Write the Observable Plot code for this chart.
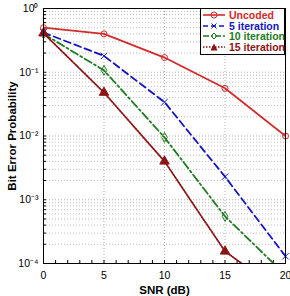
<!DOCTYPE html>
<html><head><meta charset="utf-8">
<script src="https://cdn.jsdelivr.net/npm/d3@7"></script>
<script src="https://cdn.jsdelivr.net/npm/@observablehq/plot@0.6"></script>
<style>
body{margin:0;background:#fff;font-family:"Liberation Sans",Arial,sans-serif;}
#wrap{position:relative;width:290px;height:296px;}
#legend{position:absolute;left:200px;top:8px;width:85px;height:47px;border:1px solid #000;background:#fff;box-sizing:border-box;font-weight:bold;font-size:10.5px;padding-top:1px;}
#legend div{display:flex;align-items:center;height:10.5px;white-space:nowrap;}
#legend svg{flex:none;margin-right:2px;}
</style></head>
<body><div id="wrap"></div>
<script>
const snr = [0, 5, 10, 15, 20];
const uncoded = [0.5, 0.4, 0.17, 0.056, 0.01];
const iter5 = [0.42, 0.18, 0.034, 0.0023, 0.00013];
const iter10 = [0.4, 0.107, 0.0095, 0.00055, 0.000066];
const iter15 = [0.41, 0.048, 0.004, 0.000155, 0.000032];
const seriesNames = ["Uncoded", "5 iteration", "10 iteration", "15 iteration"];
const colors = ["#d42a2a", "#1414c0", "#1e7b1e", "#8b1414"];
const dashes = ["none", "7,4", "8,3,2,3", "1.5,1.5"];
const symbols = ["circle", "times", "diamond", "triangle"];
const fills = ["none", "none", "none", "#8b1414"];
const xTicks = [0, 5, 10, 15, 20];
const yMajor = [1, 0.1, 0.01, 0.001, 0.0001];

const allSeries = [uncoded, iter5, iter10, iter15];
const rows = [];
allSeries.forEach((vals, i) => vals.forEach((v, j) => rows.push({name: seriesNames[i], snr: snr[j], ber: v, i})));
const yMinor = [];
for (let e = -4; e < 0; e++) for (let m = 2; m <= 9; m++) yMinor.push(m * Math.pow(10, e));
const sup = {"-":"⁻","0":"⁰","1":"¹","2":"²","3":"³","4":"⁴"};
const fmt = d => "10" + String(Math.round(Math.log10(d))).split("").map(c => sup[c]).join("");

const marks = [
  Plot.ruleY(yMinor, {stroke: "#b0b0b0", strokeWidth: 0.8, strokeDasharray: "1,2"}),
  Plot.ruleY(yMajor, {stroke: "#999", strokeWidth: 0.8, strokeDasharray: "1,2"}),
  Plot.ruleX(xTicks, {stroke: "#999", strokeWidth: 0.8, strokeDasharray: "1,2"}),
  Plot.axisX({ticks: d3.range(0, 21), tickSize: -3, tickFormat: () => "", label: null}),
  Plot.axisY({ticks: yMinor.concat(yMajor), tickSize: -3, tickFormat: () => "", label: null}),
  Plot.axisX({ticks: xTicks, tickSize: 0, tickPadding: 8, fontSize: 10.5, tickFormat: d => String(d),
    label: "SNR (dB)", labelAnchor: "center", labelArrow: "none", labelOffset: 30}),
  Plot.axisY({ticks: yMajor, tickSize: 0, tickPadding: 5, fontSize: 10.5, tickFormat: fmt,
    label: "Bit Error Probability", labelAnchor: "center", labelArrow: "none", labelOffset: 36}),
];
seriesNames.forEach((n, i) => {
  const d = rows.filter(r => r.i === i);
  marks.push(Plot.line(d, {x: "snr", y: "ber", stroke: colors[i], strokeWidth: 1.8, strokeDasharray: dashes[i], clip: true}));
  marks.push(Plot.dot(d.filter(r => r.ber >= 1e-4), {x: "snr", y: "ber", stroke: colors[i], fill: fills[i], symbol: symbols[i], r: i === 3 ? 3.5 : 3, strokeWidth: 1}));
});
marks.push(Plot.frame({stroke: "#000", strokeWidth: 1}));

const chart = Plot.plot({
  width: 290, height: 296,
  marginLeft: 43, marginRight: 5, marginTop: 8, marginBottom: 33,
  style: {fontFamily: "Liberation Sans, Arial, sans-serif", fontSize: "10.5px", color: "#000"},
  x: {domain: [0, 20]},
  y: {type: "log", domain: [1e-4, 1]},
  marks
});
chart.querySelectorAll("[aria-label$='axis label'] text").forEach(t => { t.style.fontWeight = "bold"; t.setAttribute("font-size", "11.5"); });
document.getElementById("wrap").appendChild(chart);

const leg = document.createElement("div");
leg.id = "legend";
const sym = i => {
  const c = colors[i];
  if (i === 0) return `<circle cx="13" cy="5" r="3" fill="none" stroke="${c}"/>`;
  if (i === 1) return `<path d="M10.5,2.5L15.5,7.5M15.5,2.5L10.5,7.5" stroke="${c}"/>`;
  if (i === 2) return `<path d="M13,2L16,5L13,8L10,5Z" fill="none" stroke="${c}"/>`;
  return `<path d="M13,1.5L16.5,8.5L9.5,8.5Z" fill="${c}"/>`;
};
seriesNames.forEach((n, i) => {
  const row = document.createElement("div");
  row.innerHTML = `<svg width="26" height="10"><line x1="2" y1="5" x2="24" y2="5" stroke="${colors[i]}" stroke-width="1.6" stroke-dasharray="${dashes[i] === 'none' ? '' : (i===1?'5,3':i===2?'6,2,2,2':'1.5,1.5')}"/>${sym(i)}</svg><span style="color:${colors[i]}">${n}</span>`;
  leg.appendChild(row);
});
document.getElementById("wrap").appendChild(leg);
</script></body></html>
